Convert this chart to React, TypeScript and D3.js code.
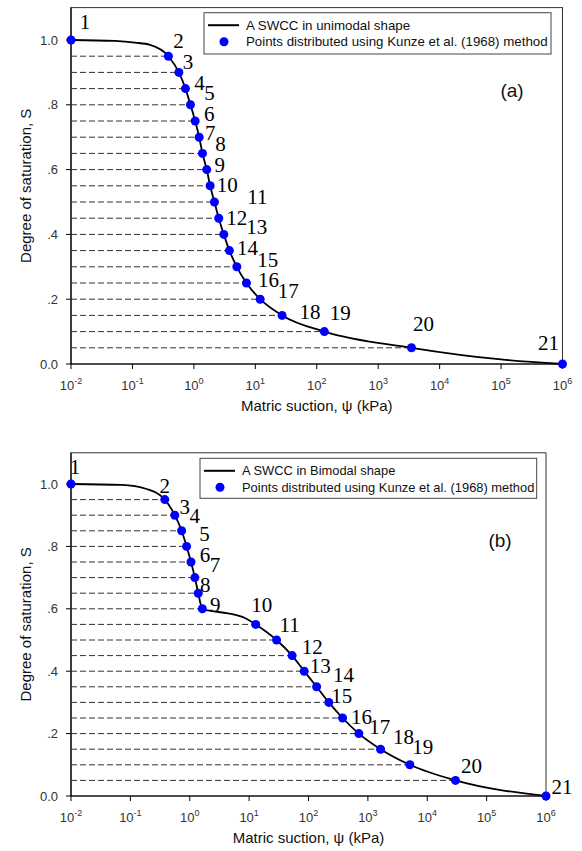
import React from 'react';
import { scaleLog, scaleLinear, line, curveMonotoneX } from 'd3';

// degree of saturation levels, Kunze et al. (1968) style: 21 equal steps
const satLevels = [
  1.0, 0.95, 0.9, 0.85, 0.8, 0.75, 0.7, 0.65, 0.6, 0.55, 0.5, 0.45, 0.4, 0.35, 0.3, 0.25, 0.2,
  0.15, 0.1, 0.05, 0.0,
];

// matric suction (kPa) of each point
const psiUnimodal = [
  0.01, 0.385, 0.57, 0.73, 0.88, 1.05, 1.22, 1.38, 1.62, 1.84, 2.16, 2.54, 3.07, 3.79, 5.0, 7.17,
  12.0, 27.3, 133, 3480, 1e6,
];
const psiBimodal = [
  0.01, 0.38, 0.56, 0.73, 0.885, 1.05, 1.22, 1.39, 1.63, 12.9, 29, 53, 84.7, 137, 220, 375, 705,
  1636, 5090, 29900, 1e6,
];

// extra points on the drawn SWCC between the markers
const curvePsiUnimodal = [0.052, 0.11, 0.194, 1e5];
const curveSatUnimodal = [0.997, 0.992, 0.985, 0.014];
const curvePsiBimodal = [0.0714, 0.188, 2.02, 4.4, 8.5];
const curveSatBimodal = [0.997, 0.984, 0.595, 0.5856, 0.5705];

const yTicks = [0, 0.2, 0.4, 0.6, 0.8, 1.0];
const yTickLabels = ['0.0', '.2', '.4', '.6', '.8', '1.0'];
const xExponents = [-2, -1, 0, 1, 2, 3, 4, 5, 6];

// label placement next to each point (layout only)
const labelOffsetsA = [
  [14, -18], [10, -15], [9, -10], [14, -6], [19, -12], [14, -7], [11, -4], [18, -9], [13, -5],
  [17, -1], [43, -5], [18, 0], [33, -7], [18, -3], [31, -7], [22, -3], [28, -8], [28, -3],
  [16, -19], [12, -24], [-14, -21],
];
const labelOffsetsB = [
  [4, -17], [0, -14], [10, -8], [13, -15], [18, -12], [14, -7], [20, -13], [7, -8], [13, -4],
  [6, -19], [13, -15], [20, -9], [16, -5], [27, -12], [13, -6], [19, -1], [21, -7], [23, -12],
  [13, -18], [16, -14], [16, -9],
];

const sans = 'Arial, "Liberation Sans", sans-serif';
const serif = '"Times New Roman", "Liberation Serif", serif';

type PanelProps = {
  psi: number[];
  extraPsi: number[];
  extraSat: number[];
  offsets: number[][];
  left: number;
  right: number;
  top: number;
  bottom: number;
  legendBox: [number, number, number, number];
  legendFont: number;
  legendText: string;
  tag: string;
  tagPos: [number, number];
};

function Panel(p: PanelProps) {
  const x = scaleLog().domain([1e-2, 1e6]).range([p.left, p.right]);
  const y = scaleLinear().domain([0, 1.1]).range([p.bottom, p.top]);

  const pts = p.psi.map((v, i) => ({ psi: v, s: satLevels[i] }));
  const curvePts = pts
    .concat(p.extraPsi.map((v, i) => ({ psi: v, s: p.extraSat[i] })))
    .sort((a, b) => a.psi - b.psi);
  const path = line<{ psi: number; s: number }>()
    .x((d) => x(d.psi))
    .y((d) => y(d.s))
    .curve(curveMonotoneX)(curvePts);

  const [lx, ly, lw, lh] = p.legendBox;
  const midX = (p.left + p.right) / 2;
  const midY = (p.top + p.bottom) / 2;

  return (
    <g>
      {/* frame */}
      <rect
        x={p.left}
        y={p.top}
        width={p.right - p.left}
        height={p.bottom - p.top}
        fill="none"
        stroke="#333"
        strokeWidth={1}
      />
      <line x1={p.left} x2={p.left} y1={p.top} y2={p.bottom} stroke="#000" strokeWidth={1.2} />
      <line x1={p.left} x2={p.right} y1={p.bottom} y2={p.bottom} stroke="#000" strokeWidth={1.2} />

      {/* dashed guides */}
      {pts.slice(1, -1).map((d, i) => (
        <line
          key={'g' + i}
          x1={p.left}
          x2={x(d.psi)}
          y1={y(d.s)}
          y2={y(d.s)}
          stroke="#333"
          strokeWidth={1}
          strokeDasharray="6,3"
        />
      ))}

      {/* y axis */}
      {yTicks.map((t, i) => (
        <g key={'y' + i}>
          <line x1={p.left - 5} x2={p.left} y1={y(t)} y2={y(t)} stroke="#000" />
          <text
            x={p.left - 13}
            y={y(t)}
            textAnchor="end"
            dominantBaseline="central"
            fontFamily={sans}
            fontSize={13}
            fill="#333"
          >
            {yTickLabels[i]}
          </text>
        </g>
      ))}

      {/* x axis */}
      {xExponents.map((e) => (
        <g key={'x' + e}>
          <line x1={x(10 ** e)} x2={x(10 ** e)} y1={p.bottom} y2={p.bottom + 5} stroke="#000" />
          <text
            x={x(10 ** e)}
            y={p.bottom + 26}
            textAnchor="middle"
            fontFamily={sans}
            fontSize={13}
            fill="#333"
          >
            10
            <tspan dy={-6} fontSize={9}>
              {e < 0 ? '-' + Math.abs(e) : e}
            </tspan>
          </text>
        </g>
      ))}

      <text
        x={midX}
        y={p.bottom + 47}
        textAnchor="middle"
        fontFamily={sans}
        fontSize={15}
        fill="#111"
      >
        Matric suction, ψ (kPa)
      </text>
      <text
        transform={`translate(25,${midY}) rotate(-90)`}
        textAnchor="middle"
        dominantBaseline="central"
        fontFamily={sans}
        fontSize={15}
        fill="#111"
      >
        Degree of saturation, S
      </text>

      {/* curve and points */}
      <path d={path || ''} fill="none" stroke="#000" strokeWidth={1.8} />
      {pts.map((d, i) => (
        <circle key={'c' + i} cx={x(d.psi)} cy={y(d.s)} r={4.5} fill="#0000ff" />
      ))}
      {pts.map((d, i) => (
        <text
          key={'n' + i}
          x={x(d.psi) + p.offsets[i][0]}
          y={y(d.s) + p.offsets[i][1]}
          textAnchor="middle"
          dominantBaseline="central"
          fontFamily={serif}
          fontSize={21}
          fill="#000"
        >
          {i + 1}
        </text>
      ))}

      {/* legend */}
      <rect x={lx} y={ly} width={lw} height={lh} fill="#fff" stroke="#444" strokeWidth={1} />
      <line x1={lx + 4} x2={lx + 35} y1={ly + 12.5} y2={ly + 12.5} stroke="#000" strokeWidth={2} />
      <circle cx={lx + 20} cy={ly + 29} r={4.5} fill="#0000ff" />
      <text
        x={lx + 42}
        y={ly + 12.5}
        dominantBaseline="central"
        fontFamily={sans}
        fontSize={p.legendFont}
        fill="#111"
      >
        {p.legendText}
      </text>
      <text
        x={lx + 42}
        y={ly + 29}
        dominantBaseline="central"
        fontFamily={sans}
        fontSize={p.legendFont}
        fill="#111"
      >
        Points distributed using Kunze et al. (1968) method
      </text>

      <text
        x={p.tagPos[0]}
        y={p.tagPos[1]}
        textAnchor="middle"
        dominantBaseline="central"
        fontFamily={sans}
        fontSize={19}
        fill="#111"
      >
        {p.tag}
      </text>
    </g>
  );
}

export default function App() {
  return (
    <svg
      width={582}
      height={851}
      style={{ position: 'absolute', left: 0, top: 0, background: '#fff' }}
    >
      <rect width={582} height={851} fill="#fff" />
      <Panel
        psi={psiUnimodal}
        extraPsi={curvePsiUnimodal}
        extraSat={curveSatUnimodal}
        offsets={labelOffsetsA}
        left={71}
        right={562.5}
        top={7.6}
        bottom={364}
        legendBox={[204, 12.7, 347, 41.3]}
        legendFont={13.3}
        legendText="A SWCC in unimodal shape"
        tag="(a)"
        tagPos={[512, 90]}
      />
      <Panel
        psi={psiBimodal}
        extraPsi={curvePsiBimodal}
        extraSat={curveSatBimodal}
        offsets={labelOffsetsB}
        left={71}
        right={546}
        top={452.8}
        bottom={796}
        legendBox={[200, 458.3, 336.7, 40]}
        legendFont={12.9}
        legendText="A SWCC in Bimodal shape"
        tag="(b)"
        tagPos={[500, 540]}
      />
    </svg>
  );
}
